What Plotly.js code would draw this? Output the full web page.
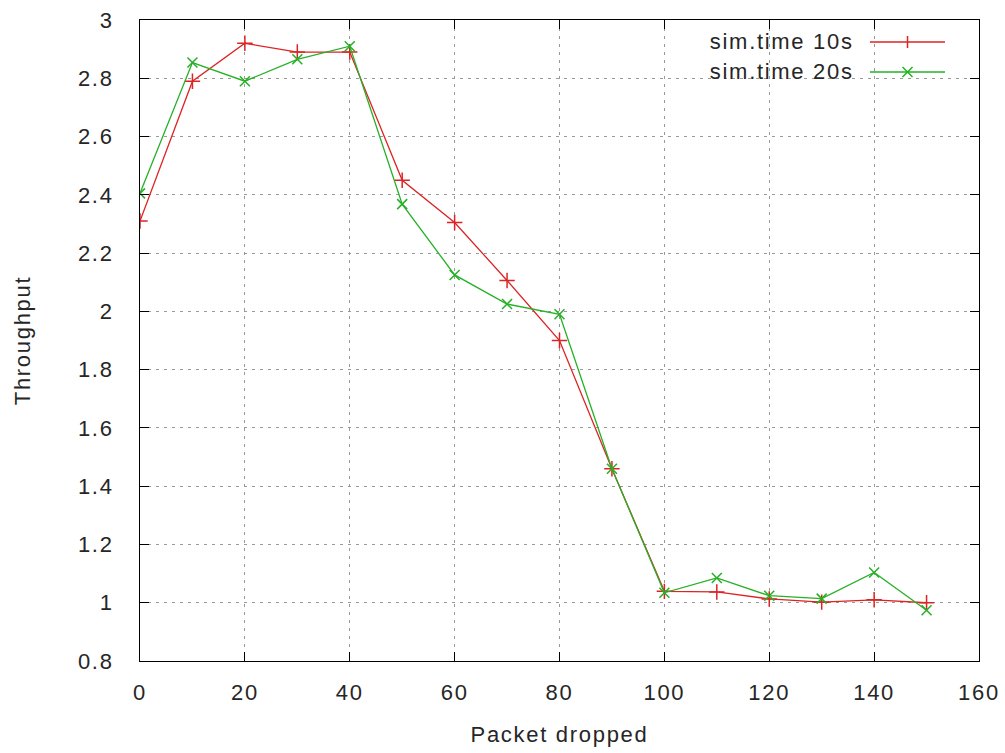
<!DOCTYPE html>
<html><head><meta charset="utf-8">
<script src="https://cdn.plot.ly/plotly-3.0.1.min.js"></script>
<style>body{margin:0;background:#fff}#c{width:1005px;height:753px}#c text{letter-spacing:1.7px}</style>
</head><body><div id="c"></div>
<script>
const packetDropped = [0,10,20,30,40,50,60,70,80,90,100,110,120,130,140,150];
const sim10 = [2.31,2.79,2.92,2.89,2.89,2.45,2.305,2.106,1.90,1.46,1.039,1.037,1.013,1.002,1.01,1.0];
const sim20 = [2.405,2.854,2.79,2.865,2.91,2.368,2.125,2.025,1.99,1.46,1.034,1.085,1.024,1.014,1.104,0.974];
const seriesNames = ['sim.time 10s','sim.time 20s'];
const seriesColors = ['#dc2424','#26b026'];
const xTicks = [0,20,40,60,80,100,120,140,160];
const yTicks = [0.8,1,1.2,1.4,1.6,1.8,2,2.2,2.4,2.6,2.8,3];

const font = {family:'"Liberation Sans", Arial, sans-serif', size:22, color:'#262626'};
const traces = [
  {x:packetDropped, y:sim10, name:seriesNames[0], mode:'lines+markers', type:'scatter',
   line:{color:seriesColors[0], width:1.3},
   marker:{symbol:'cross-thin', size:11, line:{color:seriesColors[0], width:1.5}}},
  {x:packetDropped, y:sim20, name:seriesNames[1], mode:'lines+markers', type:'scatter',
   line:{color:seriesColors[1], width:1.3},
   marker:{symbol:'x-thin', size:10, line:{color:seriesColors[1], width:1.5}}}
];
const axBase = {showline:true, linecolor:'#000', linewidth:1, mirror:'ticks', ticks:'inside', ticklen:9,
  tickcolor:'#000', showgrid:true, gridcolor:'#999', griddash:'3px,5px', gridwidth:1, zeroline:false, tickfont:font};

// gnuplot-style legend: text on the left, sample on the right
const legY = [0.9657, 0.9189];
const annotations = seriesNames.map((n,i)=>({xref:'paper', yref:'paper', x:0.840, y:legY[i], xanchor:'right', yanchor:'middle',
  text:n, showarrow:false, font:font}));
const shapes = [];
seriesNames.forEach((n,i)=>{
  shapes.push({type:'line', xref:'paper', yref:'paper', x0:0.870, x1:0.9595, y0:legY[i], y1:legY[i], line:{color:seriesColors[i], width:1.3}});
});
// marker glyphs in legend samples
shapes.push({type:'line', xref:'paper', yref:'paper', xsizemode:'pixel', ysizemode:'pixel', xanchor:0.9148, yanchor:legY[0],
  x0:0, x1:0, y0:-6, y1:6, line:{color:seriesColors[0], width:1.5}});
shapes.push({type:'line', xref:'paper', yref:'paper', xsizemode:'pixel', ysizemode:'pixel', xanchor:0.9148, yanchor:legY[1],
  x0:-5, x1:5, y0:-5, y1:5, line:{color:seriesColors[1], width:1.5}});
shapes.push({type:'line', xref:'paper', yref:'paper', xsizemode:'pixel', ysizemode:'pixel', xanchor:0.9148, yanchor:legY[1],
  x0:-5, x1:5, y0:5, y1:-5, line:{color:seriesColors[1], width:1.5}});

const layout = {
  width:1005, height:753, paper_bgcolor:'#fff', plot_bgcolor:'#fff', font:font,
  margin:{l:140, r:26, t:20, b:92},
  xaxis: Object.assign({}, axBase, {range:[0,160], tickvals:xTicks, ticktext:xTicks.map(String), ticklabelstandoff:12,
    title:{text:'Packet dropped', font:font, standoff:22}}),
  yaxis: Object.assign({}, axBase, {range:[0.8,3], tickvals:yTicks, ticktext:yTicks.map(v=>String(v)), ticklabelstandoff:21,
    title:{text:'Throughput', font:font, standoff:46}}),
  showlegend:false,
  annotations:annotations, shapes:shapes
};
Plotly.newPlot('c', traces, layout, {displayModeBar:false, staticPlot:true});
</script></body></html>
